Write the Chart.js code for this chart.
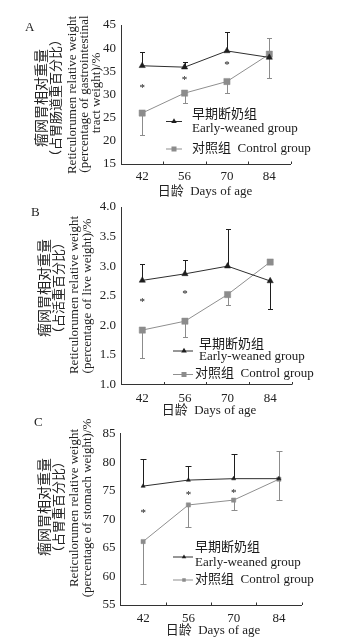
<!DOCTYPE html>
<html><head><meta charset="utf-8">
<script src="https://cdn.jsdelivr.net/npm/chart.js@4.4.1/dist/chart.umd.min.js"></script>
<style>
html,body{margin:0;padding:0;background:#fff;width:364px;height:641px;overflow:hidden}
canvas{position:absolute;left:0;top:0}
</style></head>
<body>
<canvas id="cA" width="364" height="641"></canvas>
<canvas id="cB" width="364" height="641"></canvas>
<canvas id="cC" width="364" height="641"></canvas>
<script>
// ---- data ----
const days = ['42', '56', '70', '84'];
const earlyLabelCn = '早期断奶组';
const earlyLabelEn = 'Early-weaned group';
const controlLabel = '对照组  Control group';
const xTitle = '日龄  Days of age';

// Panel A: % of gastrointestinal tract weight
const earlyA = [36.2, 35.9, 39.4, 38.0];
const earlyAHi = [39.1, 37.0, 43.4, null];
const controlA = [26.0, 30.3, 32.8, 38.7];
const controlALo = [21.2, 28.2, 30.3, 33.6];
const controlAHi = [null, null, null, 42.2];
const starsA = [31.9, 33.5, 36.7, null];
const ticksA = [15, 20, 25, 30, 35, 40, 45];
const titleA = ['瘤网胃相对重量', '（占胃肠道重百分比）', 'Reticulorumen relative weight', '(percentage of gastrointestinal', 'tract weight)/%'];

// Panel B: % of live weight
const earlyB = [2.76, 2.87, 3.00, 2.75];
const earlyBHi = [3.04, 3.10, 3.62, null];
const earlyBLo = [null, null, null, 2.28];
const controlB = [1.92, 2.07, 2.52, 3.07];
const controlBLo = [1.44, 1.81, 2.35, null];
const starsB = [2.43, 2.56, null, null];
const ticksB = [1.0, 1.5, 2.0, 2.5, 3.0, 3.5, 4.0];
const titleB = ['瘤网胃相对重量', '（占活重百分比）', 'Reticulorumen relative weight', '(percentage of live weight)/%'];

// Panel C: % of stomach weight
const earlyC = [75.8, 76.85, 77.1, 77.1];
const earlyCHi = [80.5, 79.35, 81.5, null];
const controlC = [66.1, 72.5, 73.35, 77.0];
const controlCLo = [58.7, 68.7, 71.7, 73.3];
const controlCHi = [null, null, null, 82.0];
const starsC = [71.5, 74.5, 75.0, null];
const ticksC = [55, 60, 65, 70, 75, 80, 85];
const titleC = ['瘤网胃相对重量', '（占胃重百分比）', 'Reticulorumen relative weight', '(percentage of stomach weight)/%'];

// ---- styling ----
const SERIF = '"Liberation Serif", "Times New Roman", "Noto Sans CJK SC", serif';
const EARLY_C = '#1e1e1e', EARLY_L = '#2e2e2e';
const CTRL_C = '#8c8c8c', CTRL_L = '#8f8f8f';

const deco = {
  id: 'deco',
  beforeDatasetsDraw(chart, args, o) {
    const ctx = chart.ctx, xs = chart.scales.x, ys = chart.scales.y;
    o.errors.forEach(e => {
      ctx.save(); ctx.strokeStyle = e.color; ctx.lineWidth = 1;
      e.values.forEach((v, i) => {
        const px = Math.round(xs.getPixelForValue(i)) + 0.5;
        [e.lo ? e.lo[i] : null, e.hi ? e.hi[i] : null].forEach(end => {
          if (end == null) return;
          const p0 = ys.getPixelForValue(v), p1 = Math.round(ys.getPixelForValue(end)) + 0.5;
          ctx.beginPath();
          ctx.moveTo(px, p0); ctx.lineTo(px, p1);
          ctx.moveTo(px - o.cap, p1); ctx.lineTo(px + o.cap, p1);
          ctx.stroke();
        });
      });
      ctx.restore();
    });
  },
  afterDraw(chart, args, o) {
    const ctx = chart.ctx, xs = chart.scales.x, ys = chart.scales.y, a = chart.chartArea;
    ctx.save();
    // inward x ticks at category boundaries
    ctx.strokeStyle = '#333'; ctx.lineWidth = 1;
    for (let i = 1; i <= 4; i++) {
      const px = i < 4 ? (xs.getPixelForValue(i - 1) + xs.getPixelForValue(i)) / 2 : a.right;
      const rx = Math.round(px) + 0.5;
      ctx.beginPath(); ctx.moveTo(rx, a.bottom); ctx.lineTo(rx, a.bottom - 2.5); ctx.stroke();
    }
    // asterisks
    ctx.fillStyle = '#111';
    ctx.font = '11px ' + SERIF;
    ctx.textAlign = 'center'; ctx.textBaseline = 'middle';
    o.stars.forEach((v, i) => {
      if (v == null) return;
      ctx.fillText('*', xs.getPixelForValue(i), ys.getPixelForValue(v) + 2);
    });
    // panel letter
    ctx.fillStyle = '#222';
    ctx.font = '13px ' + SERIF;
    ctx.textAlign = 'left';
    ctx.fillText(o.letter, o.letterX, o.letterY);
    // y titles
    o.title.forEach((t, i) => {
      const L = o.titleLines[i];
      ctx.save();
      ctx.translate(L[0], L[1]);
      ctx.rotate(-Math.PI / 2);
      ctx.textAlign = 'center'; ctx.textBaseline = 'middle';
      ctx.font = L[2] + 'px ' + SERIF;
      ctx.fillText(t, 0, 0);
      ctx.restore();
    });
    // x title
    ctx.font = '13px ' + SERIF;
    ctx.textAlign = 'center'; ctx.textBaseline = 'middle';
    ctx.fillText(xTitle, o.xTitle[0], o.xTitle[1]);
    // legend
    const lg = o.legend;
    ctx.lineWidth = 1;
    ctx.strokeStyle = EARLY_L;
    ctx.beginPath(); ctx.moveTo(lg.x0, lg.eY + 0.5); ctx.lineTo(lg.x1, lg.eY + 0.5); ctx.stroke();
    ctx.fillStyle = EARLY_C;
    const tr = lg.tri;
    ctx.beginPath();
    ctx.moveTo(lg.mx, lg.eY + 0.5 - tr);
    ctx.lineTo(lg.mx + tr * 0.866, lg.eY + 0.5 + tr * 0.5);
    ctx.lineTo(lg.mx - tr * 0.866, lg.eY + 0.5 + tr * 0.5);
    ctx.closePath(); ctx.fill();
    ctx.strokeStyle = CTRL_L;
    ctx.beginPath(); ctx.moveTo(lg.x0, lg.cY + 0.5); ctx.lineTo(lg.x1, lg.cY + 0.5); ctx.stroke();
    ctx.fillStyle = CTRL_C;
    ctx.fillRect(lg.mx - lg.sq / 2, lg.cY + 0.5 - lg.sq / 2, lg.sq, lg.sq);
    ctx.fillStyle = '#1a1a1a';
    ctx.textAlign = 'left';
    ctx.font = '13px ' + SERIF;
    ctx.fillText(earlyLabelCn, lg.tx, lg.cnY);
    ctx.fillText(earlyLabelEn, lg.tx, lg.enY);
    ctx.fillText(controlLabel, lg.ctx, lg.cY);
    ctx.restore();
  }
};

function makePanel(id, p) {
  const YW = 30, XH = 20;
  const errors = [
    { values: p.early, lo: p.earlyLo, hi: p.earlyHi, color: EARLY_C },
    { values: p.control, lo: p.controlLo, hi: p.controlHi, color: CTRL_C }
  ];
  new Chart(document.getElementById(id), {
    type: 'line',
    data: {
      labels: days,
      datasets: [
        { label: earlyLabelEn, data: p.early, borderColor: EARLY_L, borderWidth: 1,
          pointStyle: 'triangle', pointRadius: p.triR, pointBackgroundColor: EARLY_C,
          pointBorderColor: EARLY_C, pointBorderWidth: 0.5, tension: 0, fill: false },
        { label: controlLabel, data: p.control, borderColor: CTRL_L, borderWidth: 1,
          pointStyle: 'rect', pointRadius: p.sqR, pointBackgroundColor: CTRL_C,
          pointBorderColor: CTRL_C, pointBorderWidth: 0.5, tension: 0, fill: false }
      ]
    },
    options: {
      responsive: false, animation: false,
      layout: { padding: { left: p.l - YW, right: 364 - p.r, top: p.t, bottom: 641 - p.b - XH } },
      plugins: {
        legend: { display: false }, tooltip: { enabled: false },
        deco: { errors, cap: p.cap, stars: p.stars, letter: p.letter, letterX: p.letterX, letterY: p.letterY,
                title: p.title, titleLines: p.titleLines, xTitle: p.xTitlePos, legend: p.legend }
      },
      scales: {
        x: {
          type: 'category', offset: true,
          grid: { display: true, drawOnChartArea: false, drawTicks: false },
          border: { display: true, color: '#333', width: 1 },
          ticks: { color: '#222', padding: p.xPad, font: { family: SERIF, size: 13 }, maxRotation: 0 },
          afterFit(s) { s.height = XH; }
        },
        y: {
          type: 'linear', min: p.ticks[0], max: p.ticks[p.ticks.length - 1],
          grid: { display: true, drawOnChartArea: false, drawTicks: false },
          border: { display: true, color: '#333', width: 1 },
          afterBuildTicks(s) { s.ticks = p.ticks.map(v => ({ value: v })); },
          ticks: { color: '#222', padding: 5, font: { family: SERIF, size: 13 },
                   callback: v => p.dec ? Number(v).toFixed(p.dec) : String(v) },
          afterFit(s) { s.width = YW; }
        }
      }
    },
    plugins: [deco]
  });
}

makePanel('cA', {
  l: 121, r: 290.5, t: 25, b: 164, xPad: 5, ticks: ticksA, dec: 0,
  early: earlyA, earlyHi: earlyAHi, earlyLo: null,
  control: controlA, controlLo: controlALo, controlHi: controlAHi,
  stars: starsA, triR: 3.6, sqR: 4.4, cap: 2.5,
  letter: 'A', letterX: 25, letterY: 28,
  title: titleA, titleLines: [[42, 98, 14], [57, 98, 13], [72.5, 95, 13], [85, 94, 13], [97, 93, 13]],
  xTitlePos: [205, 192],
  legend: { x0: 166, x1: 182, mx: 174, tri: 3.2, sq: 5, eY: 121, cY: 148.5, tx: 192, ctx: 192, cnY: 115, enY: 128.5 }
});
makePanel('cB', {
  l: 121, r: 291.5, t: 207, b: 384.5, xPad: 6, ticks: ticksB, dec: 1,
  early: earlyB, earlyHi: earlyBHi, earlyLo: earlyBLo,
  control: controlB, controlLo: controlBLo, controlHi: null,
  stars: starsB, triR: 3.6, sqR: 4.4, cap: 2.5,
  letter: 'B', letterX: 31, letterY: 213,
  title: titleB, titleLines: [[45, 288, 14], [60, 288, 13], [75, 295, 13], [88, 296, 13]],
  xTitlePos: [209, 411],
  legend: { x0: 173, x1: 193, mx: 184, tri: 3.2, sq: 5, eY: 350.5, cY: 374, tx: 199, ctx: 195, cnY: 345, enY: 357 }
});
makePanel('cC', {
  l: 120.5, r: 301.5, t: 433.5, b: 605, xPad: 6, ticks: ticksC, dec: 0,
  early: earlyC, earlyHi: earlyCHi, earlyLo: null,
  control: controlC, controlLo: controlCLo, controlHi: controlCHi,
  stars: starsC, triR: 2.4, sqR: 3.0, cap: 3,
  letter: 'C', letterX: 34, letterY: 423,
  title: titleC, titleLines: [[45, 507, 14], [60, 507, 13], [75, 508, 13], [88, 508, 13]],
  xTitlePos: [213, 631],
  legend: { x0: 173, x1: 193, mx: 184, tri: 2.6, sq: 3.5, eY: 556.5, cY: 579.5, tx: 195, ctx: 195, cnY: 548, enY: 563 }
});
</script>
</body></html>
